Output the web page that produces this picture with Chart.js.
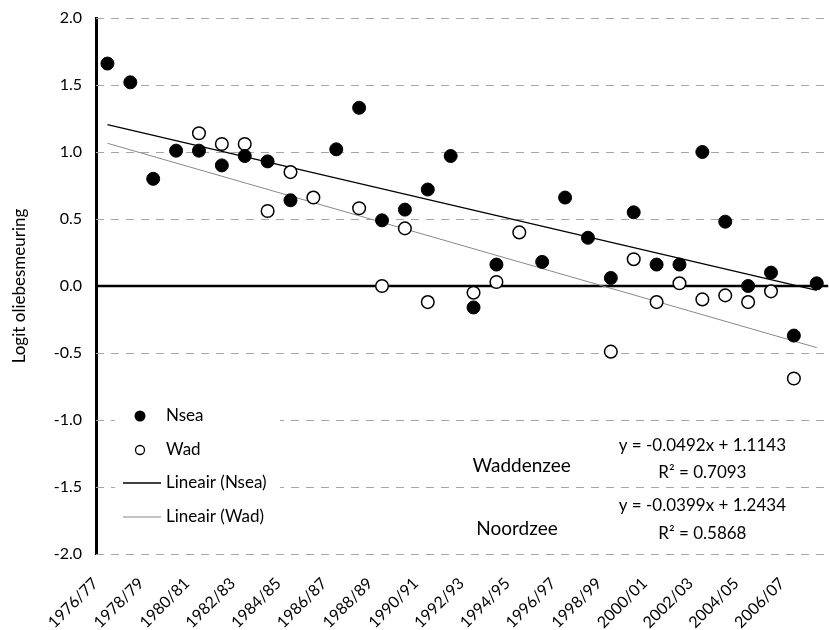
<!DOCTYPE html>
<html>
<head>
<meta charset="utf-8">
<script src="https://cdn.jsdelivr.net/npm/chart.js@4.4.1/dist/chart.umd.min.js"></script>
<style>
html, body { margin: 0; padding: 0; overflow: hidden; background: #fff; }
#wrap { width: 836px; height: 630px; }
</style>
</head>
<body>
<div id="wrap"><canvas id="c" width="836" height="630" style="width:836px;height:630px"></canvas></div>
<script>
// ---- data ----
const categories = [
  '1976/77','1977/78','1978/79','1979/80','1980/81','1981/82','1982/83','1983/84',
  '1984/85','1985/86','1986/87','1987/88','1988/89','1989/90','1990/91','1991/92',
  '1992/93','1993/94','1994/95','1995/96','1996/97','1997/98','1998/99','1999/00',
  '2000/01','2001/02','2002/03','2003/04','2004/05','2005/06','2006/07','2007/08'
];
const nseaValues = [
  1.66, 1.52, 0.80, 1.01, 1.01, 0.90, 0.97, 0.93,
  0.64, null, 1.02, 1.33, 0.49, 0.57, 0.72, 0.97,
  -0.16, 0.16, null, 0.18, 0.66, 0.36, 0.06, 0.55,
  0.16, 0.16, 1.00, 0.48, 0.00, 0.10, -0.37, 0.02
];
const wadValues = [
  null, null, null, null, 1.14, 1.06, 1.06, 0.56,
  0.85, 0.66, null, 0.58, 0.00, 0.43, -0.12, null,
  -0.05, 0.03, 0.40, null, null, null, -0.49, 0.20,
  -0.12, 0.02, -0.10, -0.07, -0.12, -0.04, -0.69, null
];
// trendline coefficients as printed on the chart (x = 1..32)
const nseaTrend = { slope: -0.0399, intercept: 1.2434, r2: 0.5868 };
const wadTrend  = { slope: -0.0492, intercept: 1.1143, r2: 0.7093 };
const yTicks = [-2.0, -1.5, -1.0, -0.5, 0.0, 0.5, 1.0, 1.5, 2.0];
const seriesNames = ['Nsea', 'Wad', 'Lineair (Nsea)', 'Lineair (Wad)'];
const areaLabels = ['Waddenzee', 'Noordzee'];
const yTitle = 'Logit oliebesmeuring';

function trendEnds(t) {
  const first = 0, last = categories.length - 1;
  return [
    { x: categories[first], y: t.intercept + t.slope * (first + 1) },
    { x: categories[last],  y: t.intercept + t.slope * (last + 1) }
  ];
}
function fmtEq(t) {
  return 'y = ' + t.slope.toFixed(4) + 'x + ' + t.intercept.toFixed(4);
}

const FONT = 'Lato, "Open Sans", sans-serif';

// dashed horizontal gridlines + solid zero line, drawn through the y scale
const gridPlugin = {
  id: 'dashGrid',
  beforeDatasetsDraw(chart) {
    const ctx = chart.ctx, ca = chart.chartArea, ys = chart.scales.y;
    ctx.save();
    yTicks.forEach(v => {
      const y = Math.round(ys.getPixelForValue(v)) + (v === 0 ? 0 : 0.5);
      ctx.beginPath();
      if (v === 0) {
        ctx.setLineDash([]);
        ctx.strokeStyle = '#000';
        ctx.lineWidth = 2.5;
      } else {
        ctx.setLineDash([8, 7]);
        ctx.strokeStyle = '#a6a6a6';
        ctx.lineWidth = 1;
      }
      ctx.moveTo(ca.left, y);
      ctx.lineTo(ca.right, y);
      ctx.stroke();
    });
    ctx.restore();
  }
};

const annotationPlugin = {
  id: 'annos',
  afterDatasetsDraw(chart) {
    const ctx = chart.ctx;
    const xs = chart.scales.x, ys = chart.scales.y;
    const ca = chart.chartArea;
    ctx.save();
    // legend box
    const lx = ca.left + 19, ly = ca.top + 374, lw = 165, lh = 144;
    ctx.fillStyle = '#fff';
    ctx.fillRect(lx, ly, lw, lh);
    const mx = ca.left + 44, tx = ca.left + 70;
    const rows = [ly + 24, ly + 58, ly + 91, ly + 125];
    ctx.font = '17px ' + FONT;
    ctx.textBaseline = 'middle';
    ctx.textAlign = 'left';
    // Nsea marker
    ctx.beginPath(); ctx.arc(mx, rows[0], 5.5, 0, Math.PI * 2);
    ctx.fillStyle = '#000'; ctx.fill();
    // Wad marker
    ctx.beginPath(); ctx.arc(mx, rows[1], 4.5, 0, Math.PI * 2);
    ctx.fillStyle = '#fff'; ctx.fill();
    ctx.lineWidth = 1.3; ctx.strokeStyle = '#000'; ctx.stroke();
    // lines
    ctx.beginPath(); ctx.moveTo(ca.left + 27, rows[2]); ctx.lineTo(ca.left + 65, rows[2]);
    ctx.strokeStyle = '#000'; ctx.lineWidth = 1.3; ctx.stroke();
    ctx.beginPath(); ctx.moveTo(ca.left + 27, rows[3]); ctx.lineTo(ca.left + 65, rows[3]);
    ctx.strokeStyle = '#888'; ctx.lineWidth = 1; ctx.stroke();
    ctx.fillStyle = '#000';
    seriesNames.forEach((n, i) => ctx.fillText(n, tx, rows[i]));

    // area labels and equations (positioned in data space)
    ctx.textAlign = 'center';
    ctx.font = '19px ' + FONT;
    ctx.fillText(areaLabels[0], xs.getPixelForValue(18.1), ys.getPixelForValue(-1.34));
    ctx.fillText(areaLabels[1], xs.getPixelForValue(17.9), ys.getPixelForValue(-1.81));
    ctx.font = '17px ' + FONT;
    const ex = xs.getPixelForValue(26.0);
    ctx.fillText(fmtEq(wadTrend), ex, ys.getPixelForValue(-1.19));
    ctx.fillText('R\u00B2 = ' + wadTrend.r2.toFixed(4), ex, ys.getPixelForValue(-1.395));
    ctx.fillText(fmtEq(nseaTrend), ex, ys.getPixelForValue(-1.64));
    ctx.fillText('R\u00B2 = ' + nseaTrend.r2.toFixed(4), ex, ys.getPixelForValue(-1.845));
    ctx.restore();
  }
};

new Chart(document.getElementById('c'), {
  type: 'line',
  data: {
    labels: categories,
    datasets: [
      { label: seriesNames[0], data: nseaValues, showLine: false,
        pointRadius: 6.5, pointBackgroundColor: '#000', pointBorderColor: '#000', pointBorderWidth: 1 },
      { label: seriesNames[1], data: wadValues, showLine: false,
        pointRadius: 6.3, pointBackgroundColor: '#fff', pointBorderColor: '#000', pointBorderWidth: 1.5 },
      { label: seriesNames[2], data: trendEnds(nseaTrend), borderColor: '#000', borderWidth: 1.3,
        pointRadius: 0, fill: false },
      { label: seriesNames[3], data: trendEnds(wadTrend), borderColor: '#888', borderWidth: 1,
        pointRadius: 0, fill: false }
    ]
  },
  options: {
    responsive: false,
    animation: false,
    devicePixelRatio: 1,
    layout: { padding: { top: 18, right: 3, bottom: 0, left: 0 } },
    plugins: { legend: { display: false }, tooltip: { enabled: false } },
    scales: {
      x: {
        type: 'category',
        offset: true,
        grid: { display: false, drawTicks: false },
        border: { display: false },
        ticks: {
          autoSkip: false, minRotation: 45, maxRotation: 45, padding: 20, labelOffset: -12,
          color: '#000', font: { family: FONT, size: 16 },
          callback: (v, i) => (i % 2 === 0 ? categories[i] : '')
        },
        afterFit: s => { s.height = 76; s.paddingLeft = 0; s.paddingRight = 0; }
      },
      y: {
        min: -2, max: 2,
        afterBuildTicks: s => { s.ticks = yTicks.map(v => ({ value: v })); },
        grid: { display: false, drawTicks: false },
        border: { display: true, color: '#000', width: 3 },
        ticks: {
          padding: 14, color: '#000', font: { family: FONT, size: 16 },
          callback: v => Number(v).toFixed(1)
        },
        title: { display: true, text: yTitle, color: '#000',
          font: { family: FONT, size: 17 }, padding: { top: 9, bottom: 0 } },
        afterFit: s => { s.width = 96; s.paddingTop = 0; s.paddingBottom = 0; }
      }
    }
  },
  plugins: [gridPlugin, annotationPlugin]
});
</script>
</body>
</html>
